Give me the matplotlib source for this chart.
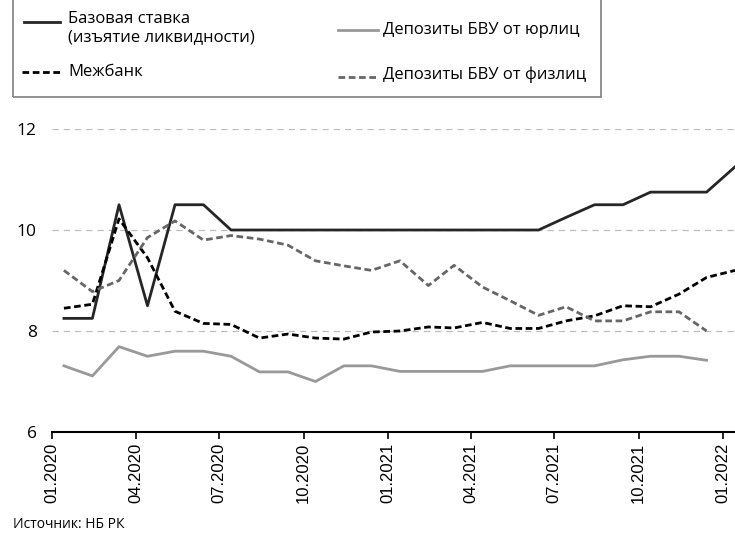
import matplotlib
matplotlib.use('Agg')
import matplotlib.pyplot as plt
import matplotlib.dates as mdates
from matplotlib.lines import Line2D
from matplotlib.patches import Rectangle
import pandas as pd

# Данные (помесячно, 01.2020 - 01.2022)
months = pd.date_range('2020-01-01', periods=25, freq='MS') + pd.Timedelta(days=13)
base_rate = [8.25, 8.25, 10.5, 8.5, 10.5, 10.5, 10.0, 10.0, 10.0, 10.0, 10.0, 10.0, 10.0,
             10.0, 10.0, 10.0, 10.0, 10.0, 10.25, 10.5, 10.5, 10.75, 10.75, 10.75, 11.25]
interbank = [8.45, 8.53, 10.22, 9.45, 8.39, 8.15, 8.13, 7.86, 7.94, 7.86, 7.84, 7.98, 8.0,
             8.08, 8.06, 8.17, 8.05, 8.05, 8.2, 8.3, 8.5, 8.48, 8.73, 9.06, 9.2]
dep_legal = [7.31, 7.11, 7.69, 7.5, 7.6, 7.6, 7.5, 7.19, 7.19, 7.0, 7.31, 7.31, 7.2,
             7.2, 7.2, 7.2, 7.31, 7.31, 7.31, 7.31, 7.43, 7.5, 7.5, 7.42]
dep_retail = [9.2, 8.78, 9.0, 9.85, 10.18, 9.8, 9.89, 9.82, 9.7, 9.39, 9.29, 9.2, 9.39,
              8.9, 9.3, 8.87, 8.6, 8.31, 8.48, 8.2, 8.2, 8.38, 8.38, 8.0]

labels = ['Базовая ставка\n(изъятие ликвидности)', 'Межбанк',
          'Депозиты БВУ от юрлиц', 'Депозиты БВУ от физлиц']
colors = ['#262626', '#000000', '#999999', '#666666']
dash = (2.4, 1.3)

plt.rcParams['font.family'] = ['Open Sans', 'DejaVu Sans']

W, H = 735, 537
fig = plt.figure(figsize=(W / 100, H / 100), dpi=100)
ax = fig.add_axes([52 / W, 105 / H, (W - 52) / W, (432 - 129) / H])

ax.plot(months, base_rate, color=colors[0], lw=2.0)
ax.plot(months, interbank, color=colors[1], lw=2.0, dashes=dash)
ax.plot(months[:len(dep_legal)], dep_legal, color=colors[2], lw=2.0)
ax.plot(months[:len(dep_retail)], dep_retail, color=colors[3], lw=2.0, dashes=dash)

ax.set_ylim(6, 12)
ax.set_yticks([6, 8, 10, 12])
ax.set_xlim(pd.Timestamp('2020-01-01'), months[-1])
ax.xaxis.set_major_locator(mdates.MonthLocator(bymonth=[1, 4, 7, 10]))
ax.xaxis.set_major_formatter(mdates.DateFormatter('%m.%Y'))
for lab in ax.get_xticklabels():
    lab.set_rotation(90)
    lab.set_family('Liberation Sans')
ax.tick_params(axis='x', length=5, width=1.2, pad=3, labelsize=12)
ax.tick_params(axis='y', length=0, pad=11, labelsize=12.5)
for s in ['top', 'right', 'left']:
    ax.spines[s].set_visible(False)
ax.spines['bottom'].set_linewidth(1.5)
ax.grid(axis='y', color='#bdbdbd', lw=0.9, dashes=(5, 4))
ax.set_axisbelow(True)

# Легенда в рамке сверху
fig.add_artist(Rectangle((13 / W, (H - 97) / H), 588 / W, 0.3, transform=fig.transFigure,
                         fill=False, edgecolor='#7f7f7f', lw=1.2, clip_on=False))
entries = [(24, 60, 22, 68, 21, 'top'), (22, 60, 72, 68, 72, 'center'),
           (338, 378, 30, 383, 30, 'center'), (338, 378, 77, 383, 75, 'center')]
for i, (x0, x1, ly, tx, ty, va) in enumerate(entries):
    ls = dict(dashes=dash) if i in (1, 3) else {}
    fig.add_artist(Line2D([x0 / W, x1 / W], [1 - ly / H, 1 - ly / H], transform=fig.transFigure,
                          color=colors[i], lw=2.0, **ls))
    yy = 1 - (ty - 10) / H if va == 'top' else 1 - ty / H
    fig.text(tx / W, yy, labels[i], fontsize=12, va=va, ha='left', linespacing=1.15)

fig.text(13 / W, 1 - 524 / H, 'Источник: НБ РК', fontsize=10, va='center', ha='left')

fig.savefig('out.png', dpi=100)
